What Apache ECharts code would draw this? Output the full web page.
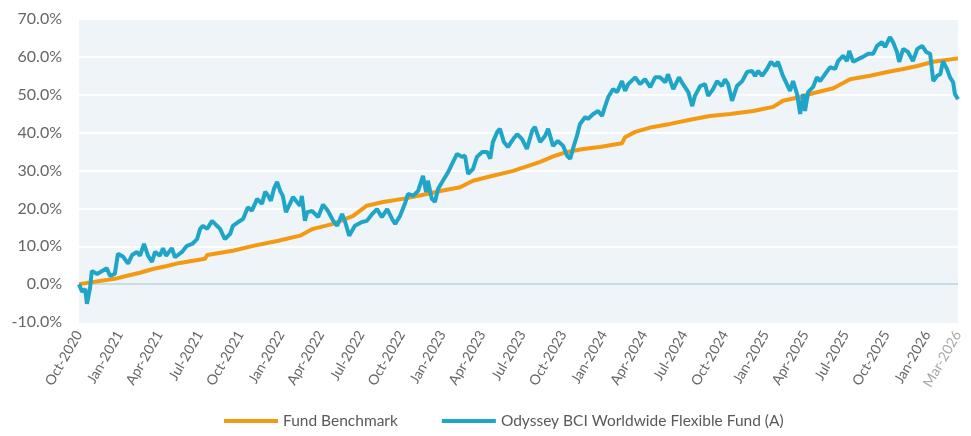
<!DOCTYPE html>
<html>
<head>
<meta charset="utf-8">
<script src="https://cdn.jsdelivr.net/npm/echarts@6/dist/echarts.min.js"></script>
<style>
  html, body { margin: 0; padding: 0; background: #fff; }
  #chart { width: 971px; height: 436px; }
</style>
</head>
<body>
<div id="chart"></div>
<script>
// x = days since 2020-10-01
var endDay = 1988;

var fundDays = [0, 2, 7, 14, 18, 25, 29, 41, 63, 70, 81, 88, 100, 111, 120, 131, 138, 147, 156, 165,
  172, 183, 190, 197, 210, 217, 233, 244, 256, 267, 274, 280, 290, 301, 312, 319, 330, 342, 348, 360,
  371, 382, 391, 403, 414, 421, 428, 434, 441, 448, 455, 461, 468, 477, 484, 493, 500, 504, 511, 516,
  527, 541, 552, 563, 575, 584, 595, 602, 611, 624, 640, 651, 663, 674, 685, 697, 708, 715, 726, 737,
  744, 756, 767, 778, 785, 789, 798, 805, 812, 823, 835, 846, 855, 866, 873, 880, 891, 900, 912, 923,
  930, 936, 946, 952, 961, 970, 982, 991, 1002, 1013, 1025, 1031, 1043, 1054, 1061, 1072, 1083, 1095, 1104, 1111,
  1117, 1126, 1133, 1145, 1151, 1163, 1174, 1183, 1190, 1197, 1208, 1217, 1228, 1235, 1242, 1258, 1269, 1280, 1292, 1303,
  1314, 1326, 1332, 1344, 1357, 1366, 1378, 1387, 1393, 1405, 1416, 1423, 1434, 1443, 1454, 1461, 1468, 1477, 1488, 1500,
  1511, 1522, 1529, 1536, 1545, 1556, 1565, 1574, 1581, 1592, 1601, 1608, 1615, 1624, 1631, 1638, 1642, 1649, 1660, 1669,
  1676, 1687, 1699, 1710, 1717, 1728, 1737, 1742, 1751, 1762, 1773, 1785, 1796, 1805, 1816, 1823, 1834, 1841, 1850, 1855,
  1864, 1875, 1886, 1896, 1907, 1916, 1925, 1932, 1941, 1948, 1954, 1963, 1970, 1977, 1981, 1988];

var fundPct = [0, -0.4, -2, -1.3, -5.2, -1, 3.5, 2.7, 4.2, 2.2, 2.7, 8, 7.2, 5.4, 7.7, 8.5, 7.5, 10.6, 7.5, 5.9,
  8.5, 7.5, 9.5, 7.5, 9.5, 7.1, 8.5, 10.1, 10.6, 11.9, 14.6, 15.4, 14.6, 16.7, 15.4, 14.6, 11.9, 13.3, 15.4, 16.4,
  17.2, 20.3, 19.4, 22.5, 21.2, 24.4, 23.3, 22, 25.2, 27, 24.6, 23.3, 19, 21.2, 23, 21.7, 20.7, 23.3, 16.7, 19,
  19.3, 17.7, 21, 19.3, 16.7, 15.4, 18.5, 16.4, 12.8, 15.4, 16.4, 16.7, 18.5, 19.8, 17.7, 19.8, 17.2, 15.9, 18, 21.2,
  23.8, 23.3, 24.6, 28.6, 24.3, 27.3, 22.5, 21.7, 25.1, 27.3, 29.6, 32.3, 34.4, 33.6, 33.9, 29.1, 30.4, 33.6, 34.9, 34.9,
  33.1, 37.5, 40.2, 41, 37.5, 36.2, 38.3, 39.6, 38.3, 35.7, 40.5, 41.5, 37.5, 39.1, 41, 36.5, 37.8, 36.5, 33.9, 33.1,
  35.7, 39.1, 42.3, 44.1, 43.6, 44.9, 45.7, 44.4, 47, 49.4, 51.5, 50.7, 53.6, 51, 52.8, 54.6, 52.8, 54.1, 52, 54.6,
  54.6, 53.3, 55.4, 51.5, 54.6, 52.8, 50.7, 47, 49.7, 52.3, 52.8, 49.7, 51.5, 53.6, 52.3, 54.1, 52.8, 48.4, 52.3, 53.6,
  56, 56.3, 55, 56.3, 55, 56.8, 58.7, 57.6, 58.7, 55, 52.8, 51, 53.6, 50.2, 44.9, 50.2, 45.7, 50.7, 52, 54.6,
  53.6, 55.4, 57.3, 56.8, 58.9, 60.3, 58.9, 61.6, 58.7, 59.4, 60, 60.8, 60.8, 62.9, 63.9, 62.6, 65.2, 63.9, 61.3, 58.7,
  62.1, 61.3, 58.9, 62.1, 62.9, 61.3, 60.8, 53.6, 55, 55.4, 58.9, 56.8, 54.6, 53.3, 50.2, 48.8];

var benchDays = [0, 81, 109, 138, 167, 199, 228, 285, 290, 348, 394, 448, 500, 529, 575, 620, 651, 688, 742, 787,
  817, 862, 891, 936, 982, 1016, 1043, 1077, 1104, 1140, 1178, 1228, 1235, 1258, 1298, 1337, 1382, 1427, 1473, 1525,
  1570, 1592, 1631, 1660, 1706, 1744, 1789, 1828, 1864, 1896, 1932, 1988];

var benchPct = [0, 1.4, 2.2, 3, 4, 4.8, 5.6, 6.7, 7.7, 8.8, 10.1, 11.4, 12.8, 14.6, 15.9, 18, 20.7, 21.7, 22.7, 23.8,
  24.6, 25.6, 27.3, 28.6, 29.9, 31.2, 32.3, 33.9, 34.9, 35.7, 36.2, 37.2, 38.8, 40.2, 41.5, 42.3, 43.4, 44.4, 44.9, 45.7,
  46.8, 48.4, 49.4, 50.4, 51.7, 54.1, 55, 56, 56.8, 57.6, 58.7, 59.6];

var tickDays = [0, 92, 182, 273, 365, 457, 547, 638, 730, 822, 912, 1003, 1095, 1187, 1278, 1369, 1461, 1553, 1643, 1734, 1826, 1918, 1988];
var tickLabels = ['Oct-2020', 'Jan-2021', 'Apr-2021', 'Jul-2021', 'Oct-2021', 'Jan-2022', 'Apr-2022', 'Jul-2022',
  'Oct-2022', 'Jan-2023', 'Apr-2023', 'Jul-2023', 'Oct-2023', 'Jan-2024', 'Apr-2024', 'Jul-2024', 'Oct-2024',
  'Jan-2025', 'Apr-2025', 'Jul-2025', 'Oct-2025', 'Jan-2026', 'Mar-2026'];

var seriesNames = ['Fund Benchmark', 'Odyssey BCI Worldwide Flexible Fund (A)'];

function pairs (days, vals) {
  return days.map(function (d, i) { return [d, vals[i]]; });
}

var font = 'Lato, "Open Sans", sans-serif';

var chart = echarts.init(document.getElementById('chart'));
chart.setOption({
  animation: false,
  color: ['#F39A12', '#1FA5C8'],
  grid: {
    left: 79, right: 13, top: 19, bottom: 114,
    show: true, backgroundColor: '#EEF4F7', borderWidth: 0
  },
  legend: {
    bottom: 2,
    left: 219,
    itemWidth: 54,
    itemHeight: 4,
    itemGap: 44,
    icon: 'rect',
    textStyle: { color: '#595959', fontSize: 15.5, fontFamily: font },
    data: seriesNames
  },
  xAxis: {
    type: 'value',
    min: 0,
    max: endDay,
    axisLine: { show: false },
    axisTick: { show: false },
    splitLine: { show: false },
    axisLabel: {
      customValues: tickDays,
      rotate: 60,
      margin: 10,
      color: '#666',
      fontSize: 14,
      fontFamily: font,
      formatter: function (v) {
        var i = tickDays.indexOf(v);
        if (i < 0) return '';
        return i === tickLabels.length - 1 ? '{g|' + tickLabels[i] + '}' : tickLabels[i];
      },
      rich: { g: { color: '#AAAAAA', fontSize: 14, fontFamily: font } }
    }
  },
  yAxis: {
    type: 'value',
    min: -10,
    max: 70,
    interval: 10,
    axisLine: { show: false },
    axisTick: { show: false },
    axisLabel: {
      margin: 17,
      color: '#666',
      fontSize: 16,
      fontFamily: font,
      formatter: function (v) { return v.toFixed(1) + '%'; }
    },
    splitLine: {
      lineStyle: {
        width: 2,
        color: ['#EEF4F7', '#C6DDE6', '#fff', '#fff', '#fff', '#fff', '#fff', '#fff', '#fff']
      }
    }
  },
  series: [
    {
      name: seriesNames[0],
      type: 'line',
      showSymbol: false,
      symbol: 'none',
      lineStyle: { width: 4 },
      data: pairs(benchDays, benchPct)
    },
    {
      name: seriesNames[1],
      type: 'line',
      showSymbol: false,
      symbol: 'none',
      lineStyle: { width: 4 },
      data: pairs(fundDays, fundPct)
    }
  ]
});
</script>
</body>
</html>
